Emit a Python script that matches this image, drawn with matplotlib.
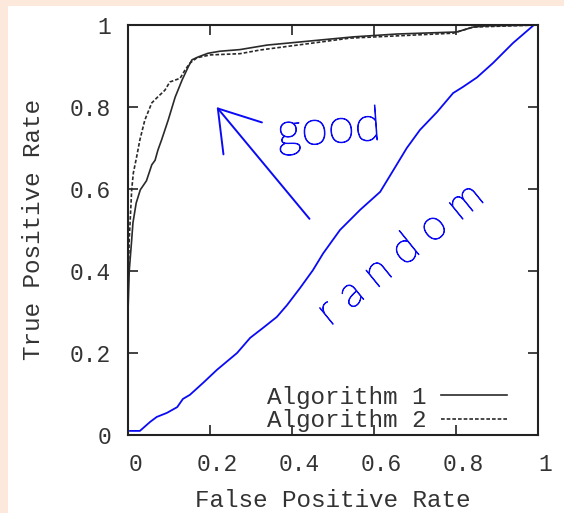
import matplotlib
matplotlib.use('Agg')
import matplotlib.pyplot as plt
import matplotlib.transforms as mtransforms
import matplotlib.patheffects as pe
from matplotlib.patches import Rectangle

# ROC data
fpr_alg1 = [0.0, 0.0, 0.003, 0.009, 0.012, 0.02, 0.03, 0.045, 0.058, 0.066, 0.073, 0.082,
            0.098, 0.115, 0.132, 0.147, 0.156, 0.171, 0.195, 0.224, 0.273, 0.339, 0.549,
            0.656, 0.802, 0.842, 0.875, 1.0]
tpr_alg1 = [0.0, 0.30, 0.40, 0.476, 0.517, 0.566, 0.598, 0.62, 0.659, 0.67, 0.695, 0.72,
            0.768, 0.824, 0.866, 0.898, 0.915, 0.922, 0.931, 0.936, 0.94, 0.951, 0.971,
            0.978, 0.983, 0.995, 0.998, 1.0]

fpr_alg2 = [0.0, 0.0, 0.003, 0.009, 0.013, 0.021, 0.029, 0.041, 0.058, 0.07, 0.09, 0.102,
            0.127, 0.139, 0.151, 0.168, 0.2, 0.273, 0.322, 0.436, 0.541, 0.793, 0.842, 1.0]
tpr_alg2 = [0.0, 0.35, 0.476, 0.598, 0.639, 0.678, 0.72, 0.768, 0.81, 0.822, 0.841, 0.861,
            0.87, 0.89, 0.907, 0.92, 0.927, 0.93, 0.939, 0.954, 0.968, 0.98, 0.995, 1.0]

fpr_random = [0.005, 0.029, 0.054, 0.07, 0.095, 0.12, 0.134, 0.151, 0.183, 0.217, 0.266,
              0.298, 0.329, 0.363, 0.388, 0.42, 0.451, 0.476, 0.517, 0.566, 0.615, 0.643,
              0.68, 0.712, 0.754, 0.793, 0.817, 0.851, 0.89, 0.939, 0.99]
tpr_random = [0.01, 0.01, 0.032, 0.044, 0.054, 0.068, 0.088, 0.098, 0.127, 0.159, 0.2,
              0.237, 0.261, 0.288, 0.317, 0.359, 0.402, 0.443, 0.5, 0.549, 0.593, 0.639,
              0.7, 0.744, 0.788, 0.834, 0.849, 0.872, 0.907, 0.956, 1.0]

ticks = [0, 0.2, 0.4, 0.6, 0.8, 1]
tick_labels = ['0', '0.2', '0.4', '0.6', '0.8', '1']

mono = 'Liberation Mono'
blue = '#0a0af5'

fig = plt.figure(figsize=(5.64, 5.13), dpi=100, facecolor='#fce9dc')
# white page area inside the peach frame
fig.add_artist(Rectangle((8 / 564, 0), 1, 1 - 6 / 513, transform=fig.transFigure,
                         facecolor='white', edgecolor='none', zorder=-10))
ax = fig.add_axes([128 / 564, 78 / 513, 410 / 564, 410 / 513])
ax.set_facecolor('white')

ax.plot(fpr_alg1, tpr_alg1, color='#2a2a2a', lw=1.2, label='Algorithm 1')
ax.plot(fpr_alg2, tpr_alg2, color='#2a2a2a', lw=1.2, ls=(0, (2.2, 1.2)), label='Algorithm 2')
ax.plot(fpr_random, tpr_random, color=blue, lw=1.3)

ax.set_xlim(0, 1)
ax.set_ylim(0, 1)
ax.set_xticks(ticks)
ax.set_yticks(ticks)
ax.set_xticklabels(tick_labels, fontfamily=mono, fontsize=16.5, color='#333333')
ax.set_yticklabels(tick_labels, fontfamily=mono, fontsize=16.5, color='#333333')
ax.tick_params(direction='in', length=7, width=1.2, top=True, right=True,
               color='#222222')
ax.tick_params(axis='x', pad=13)
ax.tick_params(axis='y', pad=12)
offset = mtransforms.ScaledTranslation(7 / 100, 0, fig.dpi_scale_trans)
for lab in ax.get_xticklabels():
    lab.set_transform(lab.get_transform() + offset)
for s in ax.spines.values():
    s.set_linewidth(1.5)
    s.set_color('#222222')

ax.set_xlabel('False Positive Rate', fontfamily=mono, fontsize=17.5, color='#333333',
              labelpad=9)
ax.set_ylabel('True Positive Rate', fontfamily=mono, fontsize=17.5, color='#333333',
              labelpad=18)

leg = ax.legend(loc='lower right', frameon=False, markerfirst=False,
                prop={'family': mono, 'size': 17.5}, handlelength=2.7,
                handletextpad=0.6, labelspacing=0.02, borderaxespad=0.3,
                bbox_to_anchor=(0.965, -0.035))
for t in leg.get_texts():
    t.set_color('#333333')

# handwritten notes
thin = [pe.withStroke(linewidth=0.7, foreground=blue)]
ax.annotate('', xy=(0.212, 0.805), xytext=(0.447, 0.522),
            arrowprops=dict(arrowstyle='->,head_length=1.4,head_width=0.9',
                            color=blue, lw=1.4, mutation_scale=20))
ax.text(0.49, 0.745, 'good', color=blue, fontsize=35, family='Lato',
        fontweight='light', rotation=4, ha='center', va='center', path_effects=thin)
ax.text(0.665, 0.44, 'r a n d o m', color=blue, fontsize=31, family='Lato',
        fontweight='light', rotation=39, ha='center', va='center',
        rotation_mode='anchor', path_effects=thin)

fig.savefig('out.png', dpi=100, facecolor=fig.get_facecolor())
